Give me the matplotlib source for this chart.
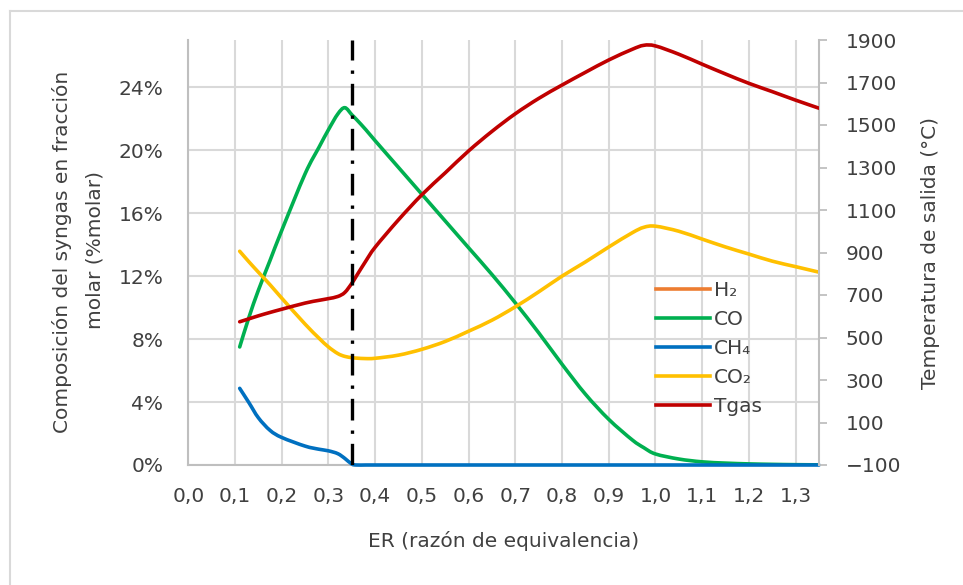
import matplotlib
matplotlib.use("Agg")
import matplotlib.pyplot as plt
from matplotlib.ticker import FixedLocator, FuncFormatter
from matplotlib.lines import Line2D
from matplotlib.path import Path
from matplotlib.patches import PathPatch

plt.rcParams['font.family'] = ['DejaVu Sans']

# Equivalence ratio (ER) grid
er = [0.11, 0.13, 0.15, 0.175, 0.2, 0.25, 0.28, 0.3, 0.32, 0.335, 0.35, 0.36, 0.38,
      0.4, 0.45, 0.5, 0.55, 0.6, 0.65, 0.7, 0.75, 0.8, 0.85, 0.9, 0.95, 0.975,
      1.0, 1.05, 1.1, 1.15, 1.2, 1.25, 1.3, 1.35]

# Syngas composition (% molar)
h2 = []
co = [7.5, 9.4, 11.1, 13.0, 14.9, 18.5, 20.2, 21.3, 22.3, 22.7, 22.25, 21.95, 21.3,
      20.6, 18.9, 17.2, 15.5, 13.8, 12.1, 10.3, 8.4, 6.4, 4.5, 2.9, 1.6, 1.1,
      0.7, 0.38, 0.2, 0.12, 0.07, 0.04, 0.02, 0.01]
ch4 = [4.87, 3.95, 3.0, 2.2, 1.75, 1.2, 1.0, 0.9, 0.72, 0.42, 0.06, 0.0, 0.0,
       0.0, 0.0, 0.0, 0.0, 0.0, 0.0, 0.0, 0.0, 0.0, 0.0, 0.0, 0.0, 0.0,
       0.0, 0.0, 0.0, 0.0, 0.0, 0.0, 0.0, 0.0]
co2 = [13.58, 12.9, 12.25, 11.45, 10.6, 8.95, 8.05, 7.5, 7.08, 6.9, 6.82, 6.79, 6.76,
       6.78, 6.98, 7.35, 7.85, 8.5, 9.2, 10.05, 11.0, 12.0, 12.9, 13.85, 14.75, 15.1,
       15.17, 14.85, 14.35, 13.85, 13.4, 12.95, 12.6, 12.25]

# Outlet gas temperature (°C)
tgas = [574, 588, 602, 618, 633, 662, 675, 683, 693, 712, 755, 790, 860,
        925, 1054, 1172, 1275, 1378, 1470, 1553, 1625, 1688, 1748, 1806, 1856, 1875,
        1872, 1833, 1786, 1740, 1696, 1657, 1617, 1579]

er_opt = 0.35

x_ticks = [i / 10 for i in range(14)]
y_ticks = [0, 4, 8, 12, 16, 20, 24]
t_ticks = list(range(-100, 2000, 200))

C_H2, C_CO, C_CH4, C_CO2, C_T = '#ED7D31', '#00B050', '#0070C0', '#FFC000', '#C00000'
TXT = '#404040'
GRID = '#D9D9D9'
SPINE = '#BFBFBF'
LW = 2.6
W, H = 963, 585


def smooth_path(xs, ys):
    """Smoothed (Catmull-Rom style) Bezier path through the data points."""
    n = len(xs)
    verts = [(xs[0], ys[0])]
    codes = [Path.MOVETO]
    for i in range(n - 1):
        x0, y0 = (xs[i - 1], ys[i - 1]) if i > 0 else (xs[i], ys[i])
        x1, y1 = xs[i], ys[i]
        x2, y2 = xs[i + 1], ys[i + 1]
        x3, y3 = (xs[i + 2], ys[i + 2]) if i + 2 < n else (x2, y2)
        c1 = (x1 + (x2 - x0) / 6, y1 + (y2 - y0) / 6)
        c2 = (x2 - (x3 - x1) / 6, y2 - (y3 - y1) / 6)
        verts += [c1, c2, (x2, y2)]
        codes += [Path.CURVE4] * 3
    return Path(verts, codes)


def add_series(axis, xs, ys, color, z=3, clip=True):
    if len(ys) < 2:
        return
    patch = PathPatch(smooth_path(xs, ys), fill=False, edgecolor=color, lw=LW,
                      capstyle='round', joinstyle='round', zorder=z,
                      transform=axis.transData, clip_on=clip)
    axis.add_patch(patch)


fig = plt.figure(figsize=(W / 100, H / 100), dpi=100)
ax = fig.add_axes([188.3 / W, 1 - 465 / H, (819 - 188.3) / W, (465 - 40) / H])
ax2 = ax.twinx()

add_series(ax, er[:len(h2)], h2, C_H2)
add_series(ax, er, co, C_CO)
add_series(ax, er, ch4, C_CH4, clip=False)
add_series(ax, er, co2, C_CO2)
add_series(ax2, er, tgas, C_T)

ax2.axvline(er_opt, color='black', lw=2.4, linestyle=(0, (6.5, 3, 1, 3)), zorder=10)

ax.set_xlim(0, 1.35)
ax.set_ylim(0, 27)
ax2.set_ylim(-100, 1900)

ax.xaxis.set_major_locator(FixedLocator(x_ticks))
ax.xaxis.set_major_formatter(FuncFormatter(lambda v, p: f'{v:.1f}'.replace('.', ',')))
ax.yaxis.set_major_locator(FixedLocator(y_ticks))
ax.yaxis.set_major_formatter(FuncFormatter(lambda v, p: f'{v:.0f}%'))
ax2.yaxis.set_major_locator(FixedLocator(t_ticks))

ax.grid(True, color=GRID, lw=1.5)
ax.set_axisbelow(True)

for a in (ax, ax2):
    for s in ('top', 'left', 'right'):
        a.spines[s].set_visible(False)
ax.spines['left'].set_visible(True)
ax.spines['left'].set_color(SPINE)
ax.spines['left'].set_linewidth(1.5)
ax.spines['bottom'].set_color(SPINE)
ax.spines['bottom'].set_linewidth(1.5)
ax2.spines['bottom'].set_visible(False)
ax2.spines['right'].set_visible(True)
ax2.spines['right'].set_color(SPINE)
ax2.spines['right'].set_linewidth(1.5)

fs = 14.5
ax.tick_params(axis='x', length=0, pad=16, labelsize=fs, labelcolor=TXT)
ax.tick_params(axis='y', length=0, pad=18, labelsize=fs, labelcolor=TXT)
ax2.tick_params(axis='y', length=6, width=1.3, color=SPINE, pad=13, labelsize=fs,
                labelcolor=TXT)

# axis titles
fig.text(503.5 / W, 1 - 541 / H, 'ER (razón de equivalencia)', fontsize=fs, color=TXT,
         ha='center', va='center')
fig.text(62.5 / W, 1 - 252 / H, 'Composición del syngas en fracción',
         fontsize=fs, color=TXT, ha='center', va='center', rotation=90)
fig.text(94.5 / W, 1 - 250 / H, 'molar (%molar)',
         fontsize=fs, color=TXT, ha='center', va='center', rotation=90)
fig.text(930 / W, 1 - 253 / H, 'Temperatura de salida (°C)', fontsize=fs, color=TXT,
         ha='center', va='center', rotation=90)

handles = [Line2D([], [], color=c, lw=LW) for c in (C_H2, C_CO, C_CH4, C_CO2, C_T)]
labels = ['H₂', 'CO', 'CH₄', 'CO₂', 'Tgas']
leg = ax2.legend(handles, labels, loc='upper left',
                 bbox_to_anchor=(0.742, 0.433), frameon=False, fontsize=fs,
                 handlelength=2.65, handletextpad=0.2, labelspacing=0.5,
                 borderpad=0, borderaxespad=0)
for t in leg.get_texts():
    t.set_color(TXT)

# chart-area frame
fig.add_artist(Line2D([10 / W, 1], [1 - 11 / H] * 2, color=GRID, lw=1.5))
fig.add_artist(Line2D([10 / W] * 2, [0, 1 - 11 / H], color=GRID, lw=1.5))

fig.savefig('out.png', dpi=100, facecolor='white')
